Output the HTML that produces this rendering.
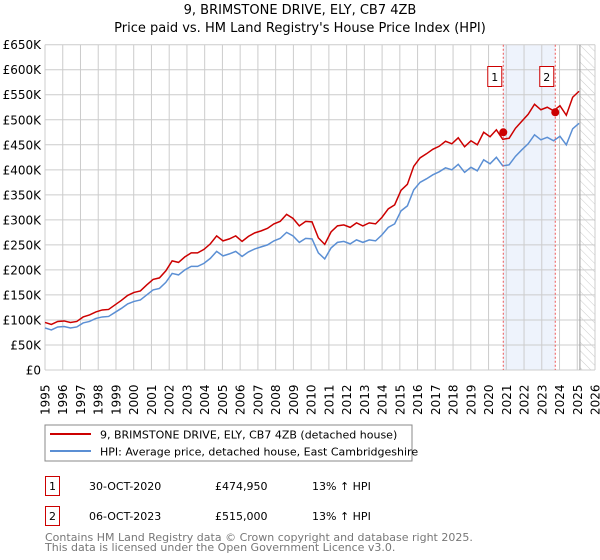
<!DOCTYPE html>
<html><head><meta charset="utf-8"><style>
body{margin:0;background:#fff;font-family:"DejaVu Sans","Liberation Sans",sans-serif;}
svg{display:block}
</style></head><body>
<svg width="600" height="560" xmlns="http://www.w3.org/2000/svg" font-family="DejaVu Sans, Liberation Sans, sans-serif">
<text x="300" y="14" text-anchor="middle" font-size="13">9, BRIMSTONE DRIVE, ELY, CB7 4ZB</text>
<text x="300" y="32" text-anchor="middle" font-size="13">Price paid vs. HM Land Registry's House Price Index (HPI)</text>
<g id="plot"></g>
<rect x="45" y="425" width="367" height="36" fill="none" stroke="#888"/>
<line x1="50" y1="434" x2="91" y2="434" stroke="#cc0000" stroke-width="2"/>
<text x="100" y="438.5" font-size="11">9, BRIMSTONE DRIVE, ELY, CB7 4ZB (detached house)</text>
<line x1="50" y1="451" x2="91" y2="451" stroke="#5b8fd4" stroke-width="2"/>
<text x="100" y="455.5" font-size="11">HPI: Average price, detached house, East Cambridgeshire</text>
<g font-size="11">
<rect x="45.5" y="476.5" width="14" height="19" fill="#fff" stroke="#cc0000"/>
<text x="52.5" y="490" text-anchor="middle">1</text>
<text x="89" y="490">30-OCT-2020</text>
<text x="215" y="490">£474,950</text>
<text x="312" y="490">13% ↑ HPI</text>
<rect x="45.5" y="506.5" width="14" height="19" fill="#fff" stroke="#cc0000"/>
<text x="52.5" y="520" text-anchor="middle">2</text>
<text x="89" y="520">06-OCT-2023</text>
<text x="215" y="520">£515,000</text>
<text x="312" y="520">13% ↑ HPI</text>
</g>
<text x="45" y="541" font-size="11" fill="#777">Contains HM Land Registry data © Crown copyright and database right 2025.</text>
<text x="45" y="551" font-size="11" fill="#777">This data is licensed under the Open Government Licence v3.0.</text>
</svg>
<script>
const hpiYears=[1995,1995.5,1996,1996.5,1997,1997.5,1998,1998.5,1999,1999.5,2000,2000.5,2001,2001.5,2002,2002.5,2003,2003.3,2003.6,2004,2004.4,2004.7,2005,2005.5,2005.8,2006,2006.5,2007,2007.5,2007.9,2008.3,2008.7,2009,2009.3,2009.6,2010,2010.5,2011,2011.5,2012,2012.5,2013,2013.5,2014,2014.5,2015,2015.5,2016,2016.5,2017,2017.5,2018,2018.5,2019,2019.5,2020,2020.4,2020.8,2021,2021.5,2022,2022.5,2023,2023.4,2023.8,2024,2024.3,2024.6,2024.8,2025.0,2025.1];
const hpiValues=[84,80,86,87,84,86,94,97,103,106,107,115,123,132,137,140,150,160,163,175,193,190,200,207,207,213,223,237,228,232,237,227,236,242,246,250,258,263,275,268,255,263,262,234,222,244,255,257,252,260,255,260,258,270,285,292,318,328,360,375,382,390,396,404,400,411,395,405,398,420,412,425,408,410,427,440,452,470,460,465,458,467,450,482,493];
const propYears=hpiYears;
const propValues=[95,91,97,98,95,97,106,110,116,120,121,130,139,149,155,158,170,181,184,198,218,215,226,234,234,241,252,268,258,262,268,257,267,274,278,283,292,297,311,303,288,297,296,264,251,276,288,290,285,294,288,294,292,305,322,330,359,371,407,424,432,441,447,457,452,464,446,458,450,475,466,480,461,463,483,497,511,531,520,525,518,528,509,545,557];
const saleYears=[2020.83,2023.76];
const salePrices=[474950,515000];
const saleLabels=["1","2"];
const yTicks=[0,50,100,150,200,250,300,350,400,450,500,550,600,650];
const xTickYears=[1995,1996,1997,1998,1999,2000,2001,2002,2003,2004,2005,2006,2007,2008,2009,2010,2011,2012,2013,2014,2015,2016,2017,2018,2019,2020,2021,2022,2023,2024,2025,2026];
</script>
<script>
// fix: hpiYears and values lengths must match; use index-aligned arrays
(function(){
const NS="http://www.w3.org/2000/svg";
const L=45,R=595,T=44.7,B=370;
const xs=y=>L+(y-1995)/(2026-1995)*(R-L);
const ys=v=>B-v/650*(B-T);
const g=document.getElementById('plot');
function mk(t,a){const e=document.createElementNS(NS,t);for(const k in a)e.setAttribute(k,a[k]);g.appendChild(e);return e;}
let e;
e=mk('rect',{x:xs(saleYears[0]),y:T,width:xs(saleYears[1])-xs(saleYears[0]),height:B-T,fill:'#eef3fc'});


const defs=document.createElementNS(NS,'defs');defs.innerHTML='<pattern id="h" width="6" height="6" patternUnits="userSpaceOnUse" patternTransform="rotate(-45)"><line x1="0" y1="0" x2="0" y2="6" stroke="#ccc" stroke-width="1"/></pattern>';g.appendChild(defs);
const fy=2025.15;
e=mk('rect',{x:xs(fy),y:T,width:R-xs(fy),height:B-T,fill:'url(#h)'});


yTicks.forEach(v=>{
 const l=mk('line',{x1:L,x2:R,y1:ys(v),y2:ys(v),stroke:'#ccc','stroke-width':1});
 
 
 const t=mk('text',{x:L-4,y:ys(v)+4.5,'text-anchor':'end','font-size':12});
 t.textContent=v===0?'£0':'£'+v+'K';
 
 
});
xTickYears.forEach(y=>{
 const l=mk('line',{x1:xs(y),x2:xs(y),y1:T,y2:B,stroke:'#ccc','stroke-width':1});
 
 
 const t=mk('text',{transform:`translate(${xs(y)+4.5},${B+45}) rotate(-90)`,'font-size':12});
 t.textContent=y;
 
 
});
e=mk('line',{x1:xs(fy),x2:xs(fy),y1:T,y2:B,stroke:'#999','stroke-width':1});


function pts(ya,va){const n=Math.min(ya.length,va.length);let s=[];for(let i=0;i<n;i++)s.push(xs(ya[i])+','+ys(va[i]));return s.join(' ');}
// build year grid matching value count
function grid(vals){const n=vals.length;const out=[];for(let i=0;i<n;i++)out.push(1995+i*(2025.1-1995)/(n-1));return out;}
const hy=hpiYears.length===hpiValues.length?hpiYears:grid(hpiValues);
const py=propYears.length===propValues.length?propYears:grid(propValues);
e=mk('polyline',{points:pts(hy,hpiValues),fill:'none',stroke:'#5b8fd4','stroke-width':1.5});


e=mk('polyline',{points:pts(py,propValues),fill:'none',stroke:'#cc0000','stroke-width':1.5});


saleYears.forEach((y,i)=>{
 const l=mk('line',{x1:xs(y),x2:xs(y),y1:T,y2:B,stroke:'#e55','stroke-width':1,'stroke-dasharray':'2,2'});
 
 
 const c=mk('circle',{cx:xs(y),cy:ys(salePrices[i]/1000),r:4,fill:'#cc0000'});
 
 
 const b=mk('rect',{x:xs(y)-15.5,y:66.5,width:14,height:20,fill:'#fff',stroke:'#cc0000'});
 
 
 const t=mk('text',{x:xs(y)-8.5,y:81,'text-anchor':'middle','font-size':11});
 t.textContent=saleLabels[i];
 
 
});
})();
</script>
</body></html>
